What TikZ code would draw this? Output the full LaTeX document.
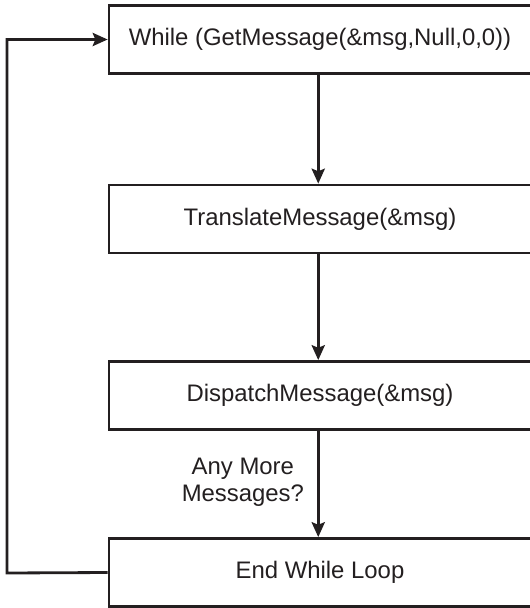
\documentclass[tikz,border=0pt]{standalone}
\usepackage{fontspec}
\setmainfont{Liberation Sans}
\usepackage{tikz}
\usetikzlibrary{arrows.meta,calc,positioning}

\definecolor{inkline}{HTML}{231F20}

\begin{document}
\begin{tikzpicture}[x=0.02cm,y=-0.02cm,font=\fontsize{13.6}{16}\selectfont,color=inkline]
			\useasboundingbox (0,0) rectangle (529,608);

			\begin{scope}[every node/.style={rectangle,draw,line width=1.6pt,fill=white,
				minimum width=8.44cm,minimum height=1.36cm,inner sep=0pt}]
				\node (while) at (320,39.5) {While (GetMessage(\&msg,Null,0,0))};
				\node (translate) at (320,219) {TranslateMessage(\&msg)};
				\node (dispatch) at (320,395.5) {DispatchMessage(\&msg)};
				\node (endloop) at (320,572.5) {End While Loop};
			\end{scope}

			\coordinate (loopcorner) at (7,573);

			\begin{scope}[>={Stealth[length=8.5pt,width=7.5pt,inset=1.5pt]},
				line width=1.6pt,
				every edge/.style={draw}]
				\path[->] ([xshift=-1]while.south) edge ([xshift=-1]translate.north);
				\path[->] ([xshift=-1]translate.south) edge ([xshift=-1]dispatch.north);
				\path[->] ([xshift=-1]dispatch.south) edge node[left=4pt,align=center,
					font=\fontsize{13.6}{15.5}\selectfont,yshift=1] (askmore)
					{Any More\\Messages?} ([xshift=-1]endloop.north);
				\draw[->] (endloop.west) -- (loopcorner) |- (while.west);
			\end{scope}
		\end{tikzpicture}
\end{document}
